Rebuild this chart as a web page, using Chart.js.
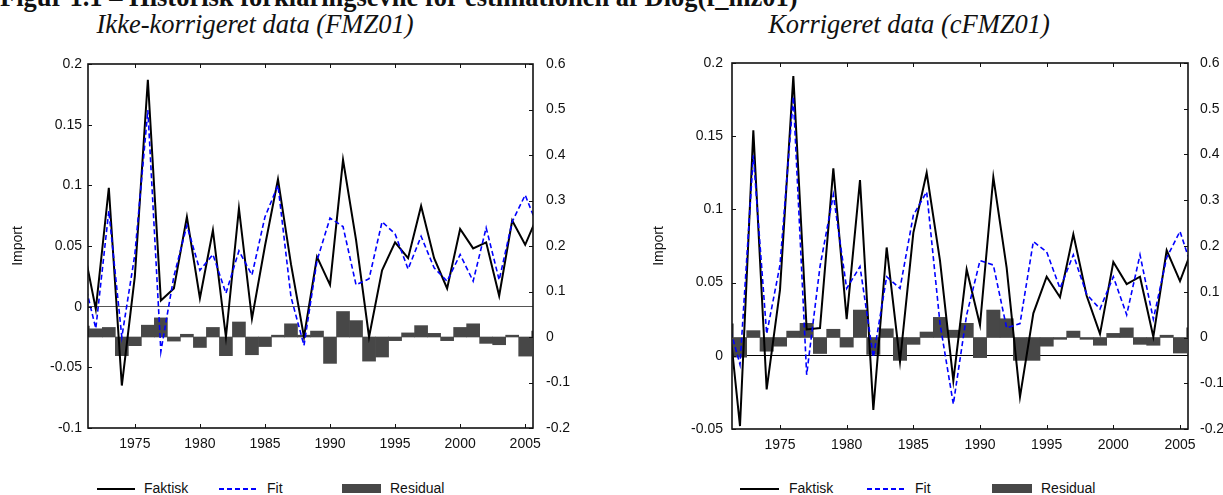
<!DOCTYPE html>
<html>
<head>
<meta charset="utf-8">
<title>Historisk forklaringsevne</title>
<script src="https://cdn.jsdelivr.net/npm/chart.js@4.4.1/dist/chart.umd.min.js"></script>
<style>
	body { margin: 0; width: 1223px; height: 495px; overflow: hidden; background: #fff; position: relative; font-family: "Liberation Sans", Arial, sans-serif; color: #111; }
	.abs { position: absolute; }
	.figTitle { font-family: "Liberation Serif", "Times New Roman", serif; font-weight: bold; font-size: 26.5px; line-height: 26.5px; white-space: nowrap; left: 0; top: -16px; }
	.sub { font-family: "Liberation Serif", "Times New Roman", serif; font-style: italic; font-size: 26.5px; line-height: 26.5px; white-space: nowrap; top: 11px; transform: translateX(-50%); }
	.legText { font-size: 14px; line-height: 16px; top: 480px; white-space: nowrap; }
	.legSolid { height: 2px; top: 488px; background: #000; }
	.legDash { height: 2px; top: 488px; background: repeating-linear-gradient(90deg, #0000ff 0 5px, transparent 5px 8px); }
	.legBox { height: 9px; top: 484px; background: #474747; }
</style>
</head>
<body>

<div class="abs figTitle">Figur 1.1 – Historisk forklaringsevne for estimationen af Dlog(f_mz01)</div>
<div class="abs sub" style="left:255px">Ikke-korrigeret data (FMZ01)</div>
<div class="abs sub" style="left:909px">Korrigeret data (cFMZ01)</div>

<canvas id="chartA" class="abs" width="615" height="470" style="left:0;top:0"></canvas>
<canvas id="chartB" class="abs" width="608" height="470" style="left:615px;top:0"></canvas>

<div class="abs legSolid" style="left:97px;width:38px"></div>
<div class="abs legText" style="left:144px">Faktisk</div>
<div class="abs legDash" style="left:219px;width:37px"></div>
<div class="abs legText" style="left:267px">Fit</div>
<div class="abs legBox" style="left:342px;width:39px"></div>
<div class="abs legText" style="left:390px">Residual</div>

<div class="abs legSolid" style="left:740px;width:39px"></div>
<div class="abs legText" style="left:789px">Faktisk</div>
<div class="abs legDash" style="left:867px;width:37px"></div>
<div class="abs legText" style="left:915px">Fit</div>
<div class="abs legBox" style="left:992px;width:40px"></div>
<div class="abs legText" style="left:1041px">Residual</div>

<script>
// values, 1971-2006 (first and last year sit partly outside the axis)
const years = [1971, 1972, 1973, 1974, 1975, 1976, 1977, 1978, 1979, 1980, 1981, 1982,
	1983, 1984, 1985, 1986, 1987, 1988, 1989, 1990, 1991, 1992, 1993, 1994,
	1995, 1996, 1997, 1998, 1999, 2000, 2001, 2002, 2003, 2004, 2005, 2006];

// Ikke-korrigeret data (FMZ01)
const faktiskA = [0.052, -0.002, 0.098, -0.065, 0.025, 0.187, 0.005, 0.015, 0.074, 0.007, 0.063, -0.025,
	0.081, -0.010, 0.050, 0.105, 0.035, -0.025, 0.041, 0.018, 0.121, 0.055, -0.025, 0.030,
	0.053, 0.040, 0.083, 0.040, 0.015, 0.064, 0.048, 0.053, 0.009, 0.071, 0.051, 0.076];
const fitA = [0.026, -0.018, 0.079, -0.025, 0.043, 0.162, -0.037, 0.025, 0.067, 0.030, 0.043, 0.011,
	0.046, 0.026, 0.074, 0.100, 0.008, -0.032, 0.038, 0.073, 0.066, 0.018, 0.023, 0.070,
	0.060, 0.031, 0.058, 0.032, 0.021, 0.043, 0.021, 0.065, 0.022, 0.070, 0.092, 0.065];
const residA = [0.024, 0.018, 0.021, -0.041, -0.019, 0.026, 0.042, -0.009, 0.006, -0.023, 0.021, -0.041,
	0.033, -0.039, -0.021, 0.004, 0.029, 0.004, 0.013, -0.058, 0.056, 0.036, -0.053, -0.044,
	-0.008, 0.009, 0.025, 0.008, -0.008, 0.021, 0.029, -0.014, -0.017, 0.004, -0.042, 0.013];

// Korrigeret data (cFMZ01)
const faktiskB = [0.040, -0.048, 0.154, -0.023, 0.045, 0.191, 0.018, 0.019, 0.128, 0.025, 0.120, -0.037,
	0.074, -0.004, 0.084, 0.125, 0.065, -0.017, 0.059, 0.021, 0.122, 0.060, -0.028, 0.029,
	0.054, 0.040, 0.083, 0.041, 0.015, 0.064, 0.049, 0.054, 0.013, 0.072, 0.051, 0.075];
const fitB = [0.027, -0.006, 0.137, 0.015, 0.062, 0.177, -0.013, 0.061, 0.110, 0.046, 0.061, -0.001,
	0.054, 0.046, 0.096, 0.112, 0.022, -0.033, 0.028, 0.065, 0.062, 0.019, 0.022, 0.078,
	0.071, 0.046, 0.069, 0.042, 0.032, 0.054, 0.028, 0.069, 0.025, 0.067, 0.085, 0.057];
const residB = [0.030, -0.043, 0.015, -0.030, -0.019, 0.014, 0.031, -0.035, 0.018, -0.021, 0.060, -0.037,
	0.019, -0.050, -0.015, 0.012, 0.044, 0.016, 0.031, -0.044, 0.060, 0.041, -0.050, -0.050,
	-0.019, -0.004, 0.014, -0.004, -0.017, 0.009, 0.021, -0.015, -0.017, 0.005, -0.034, 0.021];

// tick labels
const yearTicks = [1975, 1980, 1985, 1990, 1995, 2000, 2005];
const yTicksA = [-0.1, -0.05, 0, 0.05, 0.1, 0.15, 0.2];
const yTicksB = [-0.05, 0, 0.05, 0.1, 0.15, 0.2];
const residTicks = [-0.2, -0.1, 0, 0.1, 0.2, 0.3, 0.4, 0.5, 0.6];

const FONT = '"Liberation Sans", Arial, sans-serif';

// frame round the plot and small ticks pointing inwards on all four sides
const frameTicks = {
	id: "frameTicks",
	afterDatasetsDraw(chart) {
		const ctx = chart.ctx;
		const a = chart.chartArea;
		const sx = chart.scales.x, sy = chart.scales.y, sy1 = chart.scales.y1;
		ctx.save();
		ctx.strokeStyle = "#111";
		ctx.lineWidth = 1;
		ctx.beginPath();
		sx.ticks.forEach((t) => {
			const px = Math.round(sx.getPixelForValue(t.value)) + 0.5;
			ctx.moveTo(px, a.top); ctx.lineTo(px, a.top + 4);
			ctx.moveTo(px, a.bottom); ctx.lineTo(px, a.bottom - 4);
		});
		sy.ticks.forEach((t) => {
			const py = Math.round(sy.getPixelForValue(t.value)) + 0.5;
			ctx.moveTo(a.left, py); ctx.lineTo(a.left + 4, py);
		});
		sy1.ticks.forEach((t) => {
			const py = Math.round(sy1.getPixelForValue(t.value)) + 0.5;
			ctx.moveTo(a.right, py); ctx.lineTo(a.right - 4, py);
		});
		ctx.stroke();
		ctx.lineWidth = 1.6;
		ctx.strokeRect(a.left, a.top, a.right - a.left, a.bottom - a.top);
		ctx.restore();
	},
};

function points(values) {
	return years.map((yr, i) => ({ x: yr, y: values[i] }));
}

function fixedTicks(list) {
	return (scale) => {
		scale.ticks = list.map((v) => ({ value: v }));
	};
}

function makeChart(id, faktisk, fit, resid, yTicks, box) {
	const ctx = document.getElementById(id).getContext("2d");
	return new Chart(ctx, {
		type: "bar",
		data: {
			datasets: [
				{
					type: "line",
					label: "Fit",
					data: points(fit),
					borderColor: "#0000ff",
					borderWidth: 1.6,
					borderDash: [5, 3],
					pointRadius: 0,
					tension: 0,
					clip: 0,
					order: 1,
				},
				{
					type: "line",
					label: "Faktisk",
					data: points(faktisk),
					borderColor: "#000",
					borderWidth: 2,
					pointRadius: 0,
					tension: 0,
					clip: 0,
					order: 2,
				},
				{
					type: "bar",
					label: "Residual",
					data: points(resid),
					yAxisID: "y1",
					backgroundColor: "#474747",
					borderWidth: 0,
					barPercentage: 1,
					categoryPercentage: 1,
					clip: 0,
					order: 3,
				},
			],
		},
		options: {
			responsive: false,
			animation: false,
			events: [],
			layout: { padding: { top: box.top, left: 0, right: 0, bottom: 0 } },
			plugins: { legend: { display: false }, tooltip: { enabled: false } },
			scales: {
				x: {
					type: "linear",
					position: "bottom",
					min: 1971.4,
					max: 2005.6,
					offset: false,
					grid: { display: false, drawTicks: false },
					border: { display: false },
					afterBuildTicks: fixedTicks(yearTicks),
					afterFit: (s) => { s.height = box.xHeight; },
					ticks: {
						padding: 8,
						maxRotation: 0,
						autoSkip: false,
						color: "#111",
						font: { family: FONT, size: 14 },
						callback: (v) => String(v),
					},
				},
				y: {
					type: "linear",
					position: "left",
					min: yTicks[0],
					max: yTicks[yTicks.length - 1],
					grid: {
						drawTicks: false,
						color: (c) => (c.tick && c.tick.value === 0 ? box.zeroColor : "rgba(0,0,0,0)"),
						lineWidth: 1,
					},
					border: { display: false },
					afterBuildTicks: fixedTicks(yTicks),
					afterFit: (s) => { s.width = box.yWidth; },
					title: {
						display: true,
						text: "Import",
						color: "#111",
						font: { family: FONT, size: 14 },
						padding: { top: box.titlePad, bottom: 0 },
					},
					ticks: {
						padding: box.yPad,
						color: "#111",
						font: { family: FONT, size: 14 },
						callback: (v) => String(v),
					},
				},
				y1: {
					type: "linear",
					position: "right",
					min: residTicks[0],
					max: residTicks[residTicks.length - 1],
					grid: { display: false, drawTicks: false },
					border: { display: false },
					afterBuildTicks: fixedTicks(residTicks),
					afterFit: (s) => { s.width = box.y1Width; },
					ticks: {
						padding: box.y1Pad,
						color: "#111",
						font: { family: FONT, size: 14 },
						callback: (v) => String(v),
					},
				},
			},
		},
		plugins: [frameTicks],
	});
}

makeChart("chartA", faktiskA, fitA, residA, yTicksA, {
	top: 64, xHeight: 42, yWidth: 88, y1Width: 82, yPad: 6, y1Pad: 13, titlePad: 10, zeroColor: "#555",
});
makeChart("chartB", faktiskB, fitB, residB, yTicksB, {
	top: 63, xHeight: 41, yWidth: 117, y1Width: 35, yPad: 9, y1Pad: 12, titlePad: 36, zeroColor: "#000",
});
</script>
</body>
</html>
